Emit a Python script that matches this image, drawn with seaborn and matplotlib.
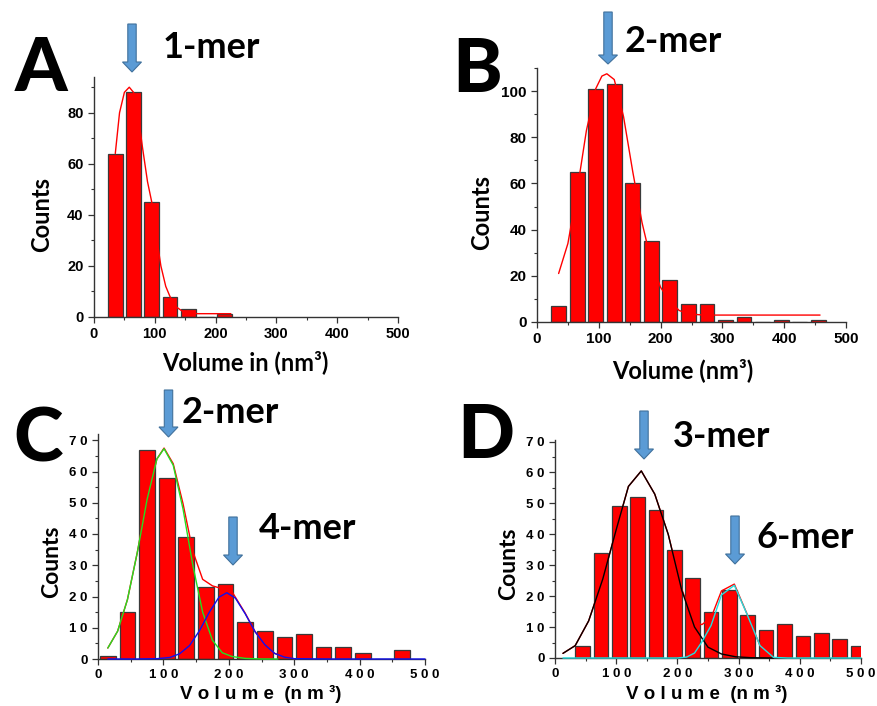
import matplotlib
matplotlib.use('Agg')
import matplotlib.pyplot as plt
import seaborn as sns
from matplotlib.ticker import MultipleLocator
from matplotlib.patches import Polygon

# ---- panel A: 1-mer ----
a_bins = [35, 65, 95, 125, 155, 185, 215]
a_counts = [64, 88, 45, 8, 3, 0, 1]
a_fit_x = [35, 42, 50, 58, 65, 72, 80, 88, 95, 103, 110, 118, 125, 135, 145, 170, 200, 225]
a_fit_y = [64, 80, 88, 90, 88, 80, 66, 53, 45, 31, 20, 12, 8, 4, 2.3, 1.3, 1.3, 1.3]

# ---- panel B: 2-mer ----
b_bins = [35, 65, 95, 125, 155, 185, 215, 245, 275, 305, 335, 365, 395, 425, 455]
b_counts = [7, 65, 101, 103, 60, 35, 18, 8, 8, 1, 2, 0, 1, 0, 1]
b_fit_x = [35, 50, 65, 80, 95, 105, 113, 125, 140, 155, 170, 185, 200, 215, 230, 245, 270, 320, 380, 458]
b_fit_y = [21, 34, 57, 83, 101, 106.5, 107.5, 105, 89, 65, 43, 26, 15, 9, 5, 3.5, 3, 3, 3, 3]

# ---- panel C: 2-mer + 4-mer ----
c_bins = [15, 45, 75, 105, 135, 165, 195, 225, 255, 285, 315, 345, 375, 405, 435, 465]
c_counts = [1, 15, 67, 58, 39, 23, 24, 12, 9, 7, 8, 4, 4, 2, 0, 3]
c_green_x = [15, 30, 45, 60, 75, 90, 101, 115, 130, 145, 160, 175, 190, 205, 225, 250, 275]
c_green_y = [3.5, 8.9, 19, 34, 51, 64, 67.3, 62, 48, 30, 15, 6, 2, 0.8, 0.2, 0, 0]
c_blue_x = [15, 60, 90, 110, 125, 140, 155, 170, 185, 197, 210, 225, 240, 255, 270, 285, 300, 350, 400, 450, 500]
c_blue_y = [0, 0, 0.1, 0.5, 1.7, 4.3, 9, 14.9, 19.8, 21.2, 19.5, 14.5, 8.8, 4.6, 1.8, 0.6, 0.1, 0, 0, 0, 0]
c_red_x = [15, 30, 45, 60, 75, 90, 101, 115, 130, 145, 160, 175, 190, 205, 225, 240, 255, 270, 285, 300]
c_red_y = [3.5, 8.9, 19, 34, 51, 64, 67.5, 62.5, 49.7, 34.5, 25.5, 23.4, 22.5, 21.5, 14.7, 8.8, 4.6, 1.8, 0.6, 0.1]

# ---- panel D: 3-mer + 6-mer ----
d_bins = [45, 75, 105, 135, 165, 195, 225, 255, 285, 315, 345, 375, 405, 435, 465, 495]
d_counts = [4, 34, 49, 52, 48, 35, 26, 15, 22, 14, 9, 11, 7, 8, 6, 4]
d_black_x = [13, 33, 55, 78, 100, 120, 141, 163, 185, 207, 228, 250, 272, 295, 320, 357]
d_black_y = [1.5, 4, 12, 25.5, 41.5, 55.5, 60.5, 53, 40, 22, 10, 3.5, 1.3, 0.4, 0.1, 0]
d_cyan_x = [13, 100, 200, 215, 228, 240, 255, 272, 293, 313, 335, 357, 380, 420, 460, 500]
d_cyan_y = [0, 0, 0, 0.3, 1.6, 5.2, 10.5, 20.4, 23.5, 14.5, 4, 0.2, 0, 0, 0, 0]
d_red_x = [13, 33, 55, 78, 100, 120, 141, 163, 185, 207, 228, 240, 255, 272, 293, 313, 335, 357]
d_red_y = [1.5, 4, 12, 25.5, 41.5, 55.5, 60.5, 53, 40, 22.3, 11.6, 10.8, 13, 21.7, 23.9, 14.6, 4, 0.2]

W, H = 877, 706
sns.set_style('ticks')
plt.rcParams['font.family'] = ['Liberation Sans', 'DejaVu Sans']
plt.rcParams['text.color'] = 'black'
plt.rcParams['xtick.color'] = 'black'
plt.rcParams['ytick.color'] = 'black'
LABEL_FONT = ['Lato', 'DejaVu Sans']

fig = plt.figure(figsize=(W / 100, H / 100), dpi=100)


def fx(px):
    return px / W


def fy(py):
    return 1 - py / H


def panel(left, top, right, bottom):
    return fig.add_axes([fx(left), fy(bottom), (right - left) / W, (bottom - top) / H])


def bars(ax, x, y):
    sns.barplot(x=x, y=y, native_scale=True, width=0.8, color='#ff0000', saturation=1,
                edgecolor='#3a3a3a', linewidth=0.9, errorbar=None, ax=ax)


def curve(ax, x, y, color):
    sns.lineplot(x=x, y=y, color=color, lw=1.0, ax=ax, sort=False, zorder=3, clip_on=False)


def style(ax, ymax, ystep, yminor, size, spaced=False):
    ax.set_xlim(0, 500)
    ax.set_ylim(0, ymax)
    xt = list(range(0, 501, 100))
    yt = list(range(0, int(ymax) + 1, ystep))
    fmt = (lambda v: ' '.join(str(v))) if spaced else str
    ax.set_xticks(xt)
    ax.set_xticklabels([fmt(v) for v in xt], fontweight='bold', fontsize=size, color='black')
    ax.set_yticks(yt)
    ax.set_yticklabels([fmt(v) for v in yt], fontweight='bold', fontsize=size, color='black')
    ax.xaxis.set_minor_locator(MultipleLocator(50))
    ax.yaxis.set_minor_locator(MultipleLocator(yminor))
    sns.despine(ax=ax)
    for s in ['left', 'bottom']:
        ax.spines[s].set_linewidth(1.0)
        ax.spines[s].set_color('#333333')
    ax.tick_params(which='major', direction='out', length=4.5, width=0.9, color='#333333', pad=3)
    ax.tick_params(which='minor', direction='out', length=2.5, width=0.8, color='#333333')
    ax.set_xlabel('')
    ax.set_ylabel('')


def arrow(xc, top, head_y, tip, shaft=4.2, head=9.5):
    pts = [(xc - shaft, top), (xc + shaft, top), (xc + shaft, head_y), (xc + head, head_y),
           (xc, tip), (xc - head, head_y), (xc - shaft, head_y)]
    fig.add_artist(Polygon([(fx(x), fy(y)) for x, y in pts], closed=True, transform=fig.transFigure,
                           facecolor='#5b9bd5', edgecolor='#41719c', lw=0.8))


def note(x, y, s, size=26):
    fig.text(fx(x), fy(y), s, fontsize=size, fontweight='bold', family=LABEL_FONT, va='baseline')


def letter(x, y, s):
    fig.text(fx(x), fy(y), s, fontsize=54, fontweight='black', family=LABEL_FONT, va='baseline')


# A
ax = panel(94, 77, 398, 317)
bars(ax, a_bins, a_counts)
curve(ax, a_fit_x, a_fit_y, '#ff0000')
style(ax, 94, 20, 10, 10.5)

# B
ax = panel(537, 68, 846, 322)
bars(ax, b_bins, b_counts)
curve(ax, b_fit_x, b_fit_y, '#ff0000')
style(ax, 110, 20, 10, 11)

# C
ax = panel(98, 434, 425, 659)
bars(ax, c_bins, c_counts)
curve(ax, c_red_x, c_red_y, '#ff0000')
curve(ax, c_green_x, c_green_y, '#22e022')
curve(ax, c_blue_x, c_blue_y, '#1010f0')
style(ax, 72, 10, 5, 9.5, spaced=True)

# D
ax = panel(555, 440, 861, 658)
bars(ax, d_bins, d_counts)
curve(ax, d_red_x, d_red_y, '#ff0000')
curve(ax, d_black_x, d_black_y, '#000000')
curve(ax, d_cyan_x, d_cyan_y, '#22e0e0')
style(ax, 70.5, 10, 5, 9.5, spaced=True)

# axis labels
fig.text(fx(42), fy(214), 'Counts', rotation=90, fontsize=17, fontweight='bold', family=LABEL_FONT, ha='center', va='center')
fig.text(fx(482), fy(212), 'Counts', rotation=90, fontsize=17, fontweight='bold', family=LABEL_FONT, ha='center', va='center')
fig.text(fx(52), fy(562), 'Counts', rotation=90, fontsize=16.5, fontweight='bold', family=LABEL_FONT, ha='center', va='center')
fig.text(fx(509), fy(564), 'Counts', rotation=90, fontsize=16.5, fontweight='bold', family=LABEL_FONT, ha='center', va='center')
fig.text(fx(245), fy(370), 'Volume in (nm³)', fontsize=17, fontweight='bold', family=LABEL_FONT, ha='center', va='baseline')
fig.text(fx(683), fy(378), 'Volume (nm³)', fontsize=17, fontweight='bold', family=LABEL_FONT, ha='center', va='baseline')
fig.text(fx(261), fy(699), 'V o l u m e  (n m ³)', fontsize=13.5, fontweight='bold', ha='center', va='baseline')
fig.text(fx(707), fy(699), 'V o l u m e  (n m ³)', fontsize=13.5, fontweight='bold', ha='center', va='baseline')

# panel letters
letter(15, 91, 'A')
letter(452, 92, 'B')
letter(13, 462, 'C')
letter(457, 458, 'D')

# mer annotations with arrows
note(163, 58, '1-mer')
arrow(132, 24, 62, 72)
note(625, 52, '2-mer')
arrow(608, 12, 55, 64)
note(182, 423, '2-mer')
arrow(168.5, 390, 427, 437)
note(259, 539, '4-mer')
arrow(233, 517, 555, 565)
note(673, 447, '3-mer')
arrow(644, 411, 449, 459)
note(756, 548, '6-mer')
arrow(735, 516, 554, 564)

fig.savefig('out.png', dpi=100)
